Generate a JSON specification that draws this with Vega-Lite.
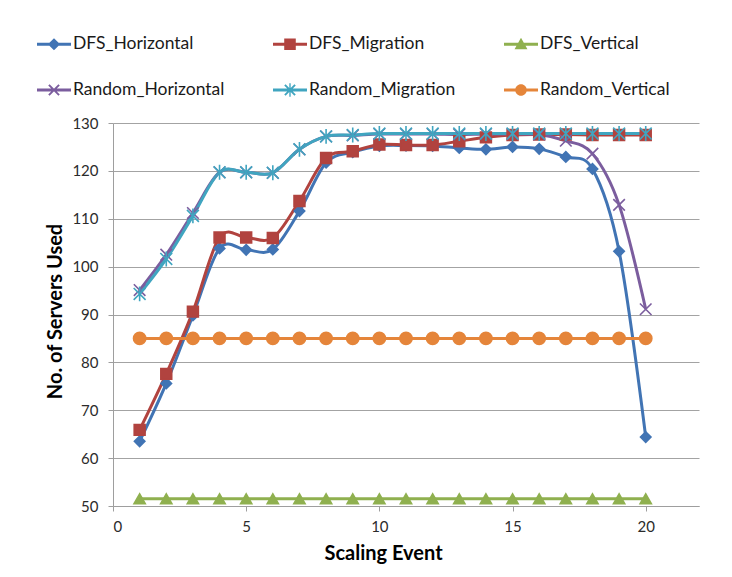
{
  "$schema": "https://vega.github.io/schema/vega-lite/v6.json",
  "width": 586,
  "height": 383,
  "autosize": {"type": "none"},
  "padding": {"left": 113, "top": 123, "right": 33, "bottom": 71},
  "background": "white",
  "config": {
    "font": "Lato",
    "view": {"stroke": null},
    "legend": {
      "orient": "none",
      "legendX": -76,
      "legendY": -96,
      "columns": 3,
      "direction": "horizontal",
      "gridAlign": "each",
      "columnPadding": 48,
      "rowPadding": 20,
      "padding": 0,
      "symbolSize": 1156,
      "symbolOpacity": 1,
      "symbolStrokeWidth": 0,
      "labelFont": "Lato",
      "labelFontSize": 17.5,
      "labelColor": "#1a1a1a",
      "labelOffset": 2,
      "labelLimit": 300
    }
  },
  "data": {
    "values": [
      {"event": 1, "series": "DFS_Horizontal", "servers": 63.5},
      {"event": 2, "series": "DFS_Horizontal", "servers": 75.6},
      {"event": 3, "series": "DFS_Horizontal", "servers": 89.8},
      {"event": 4, "series": "DFS_Horizontal", "servers": 103.8},
      {"event": 5, "series": "DFS_Horizontal", "servers": 103.5},
      {"event": 6, "series": "DFS_Horizontal", "servers": 103.6},
      {"event": 7, "series": "DFS_Horizontal", "servers": 111.6},
      {"event": 8, "series": "DFS_Horizontal", "servers": 121.7},
      {"event": 9, "series": "DFS_Horizontal", "servers": 123.9},
      {"event": 10, "series": "DFS_Horizontal", "servers": 125.2},
      {"event": 11, "series": "DFS_Horizontal", "servers": 125.3},
      {"event": 12, "series": "DFS_Horizontal", "servers": 125.2},
      {"event": 13, "series": "DFS_Horizontal", "servers": 124.8},
      {"event": 14, "series": "DFS_Horizontal", "servers": 124.5},
      {"event": 15, "series": "DFS_Horizontal", "servers": 125.0},
      {"event": 16, "series": "DFS_Horizontal", "servers": 124.6},
      {"event": 17, "series": "DFS_Horizontal", "servers": 122.9},
      {"event": 18, "series": "DFS_Horizontal", "servers": 120.4},
      {"event": 19, "series": "DFS_Horizontal", "servers": 103.2},
      {"event": 20, "series": "DFS_Horizontal", "servers": 64.4},

      {"event": 1, "series": "DFS_Migration", "servers": 65.9},
      {"event": 2, "series": "DFS_Migration", "servers": 77.6},
      {"event": 3, "series": "DFS_Migration", "servers": 90.6},
      {"event": 4, "series": "DFS_Migration", "servers": 106.1},
      {"event": 5, "series": "DFS_Migration", "servers": 106.1},
      {"event": 6, "series": "DFS_Migration", "servers": 106.0},
      {"event": 7, "series": "DFS_Migration", "servers": 113.7},
      {"event": 8, "series": "DFS_Migration", "servers": 122.7},
      {"event": 9, "series": "DFS_Migration", "servers": 124.1},
      {"event": 10, "series": "DFS_Migration", "servers": 125.5},
      {"event": 11, "series": "DFS_Migration", "servers": 125.4},
      {"event": 12, "series": "DFS_Migration", "servers": 125.4},
      {"event": 13, "series": "DFS_Migration", "servers": 126.2},
      {"event": 14, "series": "DFS_Migration", "servers": 127.0},
      {"event": 15, "series": "DFS_Migration", "servers": 127.5},
      {"event": 16, "series": "DFS_Migration", "servers": 127.6},
      {"event": 17, "series": "DFS_Migration", "servers": 127.6},
      {"event": 18, "series": "DFS_Migration", "servers": 127.5},
      {"event": 19, "series": "DFS_Migration", "servers": 127.5},
      {"event": 20, "series": "DFS_Migration", "servers": 127.5},

      {"event": 1, "series": "DFS_Vertical", "servers": 51.5},
      {"event": 2, "series": "DFS_Vertical", "servers": 51.5},
      {"event": 3, "series": "DFS_Vertical", "servers": 51.5},
      {"event": 4, "series": "DFS_Vertical", "servers": 51.5},
      {"event": 5, "series": "DFS_Vertical", "servers": 51.5},
      {"event": 6, "series": "DFS_Vertical", "servers": 51.5},
      {"event": 7, "series": "DFS_Vertical", "servers": 51.5},
      {"event": 8, "series": "DFS_Vertical", "servers": 51.5},
      {"event": 9, "series": "DFS_Vertical", "servers": 51.5},
      {"event": 10, "series": "DFS_Vertical", "servers": 51.5},
      {"event": 11, "series": "DFS_Vertical", "servers": 51.5},
      {"event": 12, "series": "DFS_Vertical", "servers": 51.5},
      {"event": 13, "series": "DFS_Vertical", "servers": 51.5},
      {"event": 14, "series": "DFS_Vertical", "servers": 51.5},
      {"event": 15, "series": "DFS_Vertical", "servers": 51.5},
      {"event": 16, "series": "DFS_Vertical", "servers": 51.5},
      {"event": 17, "series": "DFS_Vertical", "servers": 51.5},
      {"event": 18, "series": "DFS_Vertical", "servers": 51.5},
      {"event": 19, "series": "DFS_Vertical", "servers": 51.5},
      {"event": 20, "series": "DFS_Vertical", "servers": 51.5},

      {"event": 1, "series": "Random_Horizontal", "servers": 95.1},
      {"event": 2, "series": "Random_Horizontal", "servers": 102.5},
      {"event": 3, "series": "Random_Horizontal", "servers": 111.2},
      {"event": 4, "series": "Random_Horizontal", "servers": 119.7},
      {"event": 5, "series": "Random_Horizontal", "servers": 119.7},
      {"event": 6, "series": "Random_Horizontal", "servers": 119.6},
      {"event": 7, "series": "Random_Horizontal", "servers": 124.5},
      {"event": 8, "series": "Random_Horizontal", "servers": 127.2},
      {"event": 9, "series": "Random_Horizontal", "servers": 127.4},
      {"event": 10, "series": "Random_Horizontal", "servers": 127.7},
      {"event": 11, "series": "Random_Horizontal", "servers": 127.7},
      {"event": 12, "series": "Random_Horizontal", "servers": 127.7},
      {"event": 13, "series": "Random_Horizontal", "servers": 127.6},
      {"event": 14, "series": "Random_Horizontal", "servers": 127.7},
      {"event": 15, "series": "Random_Horizontal", "servers": 127.7},
      {"event": 16, "series": "Random_Horizontal", "servers": 127.6},
      {"event": 17, "series": "Random_Horizontal", "servers": 126.3},
      {"event": 18, "series": "Random_Horizontal", "servers": 123.6},
      {"event": 19, "series": "Random_Horizontal", "servers": 112.9},
      {"event": 20, "series": "Random_Horizontal", "servers": 91.1},

      {"event": 1, "series": "Random_Migration", "servers": 94.3},
      {"event": 2, "series": "Random_Migration", "servers": 101.6},
      {"event": 3, "series": "Random_Migration", "servers": 110.6},
      {"event": 4, "series": "Random_Migration", "servers": 119.7},
      {"event": 5, "series": "Random_Migration", "servers": 119.7},
      {"event": 6, "series": "Random_Migration", "servers": 119.6},
      {"event": 7, "series": "Random_Migration", "servers": 124.5},
      {"event": 8, "series": "Random_Migration", "servers": 127.2},
      {"event": 9, "series": "Random_Migration", "servers": 127.5},
      {"event": 10, "series": "Random_Migration", "servers": 127.8},
      {"event": 11, "series": "Random_Migration", "servers": 127.8},
      {"event": 12, "series": "Random_Migration", "servers": 127.8},
      {"event": 13, "series": "Random_Migration", "servers": 127.8},
      {"event": 14, "series": "Random_Migration", "servers": 127.8},
      {"event": 15, "series": "Random_Migration", "servers": 127.8},
      {"event": 16, "series": "Random_Migration", "servers": 127.8},
      {"event": 17, "series": "Random_Migration", "servers": 127.8},
      {"event": 18, "series": "Random_Migration", "servers": 127.8},
      {"event": 19, "series": "Random_Migration", "servers": 127.8},
      {"event": 20, "series": "Random_Migration", "servers": 127.8},

      {"event": 1, "series": "Random_Vertical", "servers": 85},
      {"event": 2, "series": "Random_Vertical", "servers": 85},
      {"event": 3, "series": "Random_Vertical", "servers": 85},
      {"event": 4, "series": "Random_Vertical", "servers": 85},
      {"event": 5, "series": "Random_Vertical", "servers": 85},
      {"event": 6, "series": "Random_Vertical", "servers": 85},
      {"event": 7, "series": "Random_Vertical", "servers": 85},
      {"event": 8, "series": "Random_Vertical", "servers": 85},
      {"event": 9, "series": "Random_Vertical", "servers": 85},
      {"event": 10, "series": "Random_Vertical", "servers": 85},
      {"event": 11, "series": "Random_Vertical", "servers": 85},
      {"event": 12, "series": "Random_Vertical", "servers": 85},
      {"event": 13, "series": "Random_Vertical", "servers": 85},
      {"event": 14, "series": "Random_Vertical", "servers": 85},
      {"event": 15, "series": "Random_Vertical", "servers": 85},
      {"event": 16, "series": "Random_Vertical", "servers": 85},
      {"event": 17, "series": "Random_Vertical", "servers": 85},
      {"event": 18, "series": "Random_Vertical", "servers": 85},
      {"event": 19, "series": "Random_Vertical", "servers": 85},
      {"event": 20, "series": "Random_Vertical", "servers": 85}
    ]
  },
  "encoding": {
    "x": {
      "field": "event",
      "type": "quantitative",
      "scale": {"domain": [0, 22], "nice": false, "zero": false},
      "axis": {
        "title": "Scaling Event",
        "values": [0, 5, 10, 15, 20],
        "grid": false,
        "domainColor": "#9e9e9e",
        "domainWidth": 1,
        "tickColor": "#9e9e9e",
        "tickSize": 5,
        "labelFont": "Lato",
        "labelFontSize": 15,
        "labelColor": "#2b2b2b",
        "labelPadding": 8,
        "titleFont": "Lato",
        "titleFontSize": 20,
        "titleFontWeight": "bold",
        "titleColor": "#000000",
        "titleX": 270,
        "titleY": 47,
        "titleBaseline": "middle"
      }
    },
    "y": {
      "field": "servers",
      "type": "quantitative",
      "scale": {"domain": [50, 130], "nice": false, "zero": false},
      "axis": {
        "title": "No. of Servers Used",
        "values": [50, 60, 70, 80, 90, 100, 110, 120, 130],
        "grid": true,
        "gridColor": "#a3a3a3",
        "gridWidth": 1,
        "domainColor": "#9e9e9e",
        "tickColor": "#9e9e9e",
        "tickSize": 5,
        "labelFont": "Lato",
        "labelFontSize": 15,
        "labelColor": "#2b2b2b",
        "labelPadding": 10,
        "titleFont": "Lato",
        "titleFontSize": 20,
        "titleFontWeight": "bold",
        "titleColor": "#000000",
        "titleX": -58,
        "titleY": 188,
        "titleBaseline": "middle",
        "titleAngle": 270
      }
    }
  },
  "layer": [
    {
      "mark": {"type": "line", "interpolate": "cardinal", "strokeWidth": 3},
      "encoding": {
        "color": {
          "field": "series",
          "type": "nominal",
          "scale": {
            "domain": ["DFS_Horizontal", "DFS_Migration", "DFS_Vertical", "Random_Horizontal", "Random_Migration", "Random_Vertical"],
            "range": ["#4174b4", "#b1433f", "#8fb04f", "#7b5d9e", "#40a5c0", "#e5853a"]
          },
          "legend": null
        }
      }
    },
    {
      "mark": {"type": "point", "filled": true, "strokeWidth": 1.6, "opacity": 1},
      "encoding": {
        "fill": {
          "field": "series",
          "type": "nominal",
          "scale": {
            "domain": ["DFS_Horizontal", "DFS_Migration", "DFS_Vertical", "Random_Horizontal", "Random_Migration", "Random_Vertical"],
            "range": ["#4174b4", "#b1433f", "#8fb04f", "transparent", "transparent", "#e5853a"]
          },
          "legend": null
        },
        "stroke": {
          "field": "series",
          "type": "nominal",
          "scale": {
            "domain": ["DFS_Horizontal", "DFS_Migration", "DFS_Vertical", "Random_Horizontal", "Random_Migration", "Random_Vertical"],
            "range": ["#4174b4", "#b1433f", "#8fb04f", "#7b5d9e", "#40a5c0", "#e5853a"]
          },
          "legend": null
        },
        "shape": {
          "field": "series",
          "type": "nominal",
          "scale": {
            "domain": ["DFS_Horizontal", "DFS_Migration", "DFS_Vertical", "Random_Horizontal", "Random_Migration", "Random_Vertical"],
            "range": [
              "diamond",
              "square",
              "triangle-up",
              "M-1,-1L1,1M-1,1L1,-1",
              "M-1,-1L1,1M-1,1L1,-1M0,-1.25L0,1.25",
              "circle"
            ]
          },
          "legend": null
        },
        "size": {
          "field": "series",
          "type": "nominal",
          "scale": {
            "domain": ["DFS_Horizontal", "DFS_Migration", "DFS_Vertical", "Random_Horizontal", "Random_Migration", "Random_Vertical"],
            "range": [110, 150, 140, 110, 120, 140]
          },
          "legend": null
        }
      }
    },
    {
      "mark": {"type": "point", "filled": true, "opacity": 0, "size": 1156},
      "encoding": {
        "color": {
          "field": "series",
          "type": "nominal",
          "title": null,
          "scale": {
            "domain": ["DFS_Horizontal", "DFS_Migration", "DFS_Vertical", "Random_Horizontal", "Random_Migration", "Random_Vertical"],
            "range": ["#4174b4", "#b1433f", "#8fb04f", "#7b5d9e", "#40a5c0", "#e5853a"]
          }
        },
        "shape": {
          "field": "series",
          "type": "nominal",
          "title": null,
          "scale": {
            "domain": ["DFS_Horizontal", "DFS_Migration", "DFS_Vertical", "Random_Horizontal", "Random_Migration", "Random_Vertical"],
            "range": [
              "M-1,-0.09H1V0.09H-1ZM0,-0.36L0.36,0L0,0.36L-0.36,0Z",
              "M-1,-0.09H1V0.09H-1ZM-0.34,-0.34H0.34V0.34H-0.34Z",
              "M-1,-0.09H1V0.09H-1ZM0,-0.38L0.38,0.3H-0.38Z",
              "M-1,-0.09H1V0.09H-1ZM-0.26,-0.34L0.34,0.26L0.26,0.34L-0.34,-0.26ZM-0.26,0.34L-0.34,0.26L0.26,-0.34L0.34,-0.26Z",
              "M-1,-0.09H1V0.09H-1ZM-0.26,-0.34L0.34,0.26L0.26,0.34L-0.34,-0.26ZM-0.26,0.34L-0.34,0.26L0.26,-0.34L0.34,-0.26ZM-0.04,-0.4H0.04V0.4H-0.04Z",
              "M-1,-0.09H1V0.09H-1ZM-0.34,0A0.34,0.34 0 1,1 0.34,0A0.34,0.34 0 1,1 -0.34,0Z"
            ]
          }
        }
      }
    }
  ],
  "resolve": {
    "scale": {"color": "independent", "shape": "independent", "fill": "independent", "stroke": "independent", "size": "independent"},
    "legend": {"color": "independent", "shape": "independent"}
  }
}
